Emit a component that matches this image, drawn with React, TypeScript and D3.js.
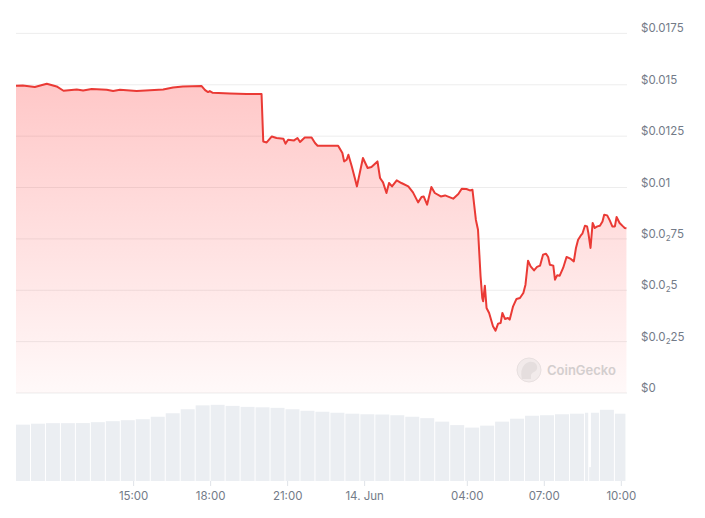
import * as d3 from "d3";
import React from "react";

// price series (day + time, USD)
const priceTimes = [
  "13 10:25", "13 10:41", "13 11:09", "13 11:37", "13 12:00", "13 12:16", "13 12:47", "13 13:02",
  "13 13:22", "13 13:57", "13 14:12", "13 14:28", "13 15:07", "13 16:09", "13 16:32", "13 16:55",
  "13 17:39", "13 17:47", "13 17:54", "13 17:58", "13 18:05", "13 18:45", "13 19:24", "13 19:59",
  "13 20:03", "13 20:11", "13 20:23", "13 20:34", "13 20:50", "13 20:55", "13 21:01", "13 21:15",
  "13 21:23", "13 21:29", "13 21:40", "13 21:56", "13 22:04", "13 22:10", "13 22:23", "13 22:58",
  "13 23:08", "13 23:12", "13 23:18", "13 23:22", "13 23:30", "13 23:37", "13 23:42", "13 23:56",
  "14 00:07", "14 00:16", "14 00:30", "14 00:36", "14 00:43", "14 00:51", "14 00:57", "14 01:04",
  "14 01:15", "14 01:26", "14 01:42", "14 01:53", "14 02:05", "14 02:13", "14 02:18", "14 02:26",
  "14 02:36", "14 02:44", "14 02:58", "14 03:08", "14 03:27", "14 03:39", "14 03:47", "14 03:58",
  "14 04:06", "14 04:12", "14 04:20", "14 04:25", "14 04:31", "14 04:35", "14 04:37", "14 04:41",
  "14 04:45", "14 04:51", "14 05:00", "14 05:06", "14 05:12", "14 05:18", "14 05:22", "14 05:28",
  "14 05:35", "14 05:39", "14 05:47", "14 05:55", "14 06:03", "14 06:11", "14 06:16", "14 06:22",
  "14 06:28", "14 06:36", "14 06:43", "14 06:50", "14 06:57", "14 07:04", "14 07:09", "14 07:13",
  "14 07:21", "14 07:25", "14 07:30", "14 07:36", "14 07:44", "14 07:52", "14 08:02", "14 08:09",
  "14 08:14", "14 08:19", "14 08:25", "14 08:29", "14 08:35", "14 08:40", "14 08:43", "14 08:48",
  "14 08:53", "14 08:58", "14 09:04", "14 09:10", "14 09:16", "14 09:20", "14 09:27", "14 09:33",
  "14 09:39", "14 09:45", "14 09:49", "14 09:56", "14 10:04", "14 10:08", "14 10:12",
];
const priceValues = [
  0.014952, 0.014967, 0.014889, 0.015049, 0.014918, 0.014709, 0.014772, 0.014723,
  0.014791, 0.014757, 0.014694, 0.014757, 0.014694, 0.014772, 0.014869, 0.014918,
  0.014937, 0.014743, 0.014646, 0.014694, 0.014611, 0.014577, 0.014548, 0.014548,
  0.012243, 0.012194, 0.012486, 0.012408, 0.012374, 0.012131, 0.012325, 0.012291,
  0.012408, 0.012214, 0.012437, 0.012437, 0.012165, 0.012034, 0.012034, 0.012034,
  0.011678, 0.01127, 0.011353, 0.011596, 0.011027, 0.010462, 0.010054, 0.011435,
  0.010949, 0.010997, 0.01127, 0.010462, 0.010249, 0.009733, 0.010219, 0.010054,
  0.010346, 0.010219, 0.010054, 0.009762, 0.009276, 0.009538, 0.009567, 0.009164,
  0.010025, 0.009733, 0.009567, 0.009616, 0.009456, 0.009684, 0.009942, 0.009927,
  0.009859, 0.009893, 0.008434, 0.007948, 0.005676, 0.004626, 0.00446, 0.005224,
  0.004139, 0.003896, 0.003244, 0.003035, 0.003376, 0.00341, 0.003896, 0.003604,
  0.003653, 0.00357, 0.004217, 0.004577, 0.004626, 0.004869, 0.005273, 0.00644,
  0.006163, 0.005968, 0.006134, 0.006197, 0.006732, 0.00678, 0.00662, 0.006245,
  0.006197, 0.005516, 0.005725, 0.00571, 0.006085, 0.00662, 0.006523, 0.006406,
  0.007058, 0.007461, 0.007656, 0.007753, 0.008142, 0.008108, 0.007787, 0.007058,
  0.008274, 0.00803, 0.008108, 0.008142, 0.008351, 0.008677, 0.008643, 0.0084,
  0.008108, 0.008108, 0.008566, 0.008274, 0.008108, 0.00803, 0.00802,
];

// volume bars: start time of each bar and relative volume
const volumeTimes = [
  "13 10:25", "13 11:00", "13 11:35", "13 12:10", "13 12:45", "13 13:20", "13 13:55", "13 14:30",
  "13 15:05", "13 15:40", "13 16:15", "13 16:50", "13 17:25", "13 18:00", "13 18:35", "13 19:10",
  "13 19:45", "13 20:20", "13 20:55", "13 21:30", "13 22:05", "13 22:40", "13 23:15", "13 23:50",
  "14 00:25", "14 01:00", "14 01:35", "14 02:10", "14 02:45", "14 03:20", "14 03:55", "14 04:30",
  "14 05:05", "14 05:40", "14 06:15", "14 06:50", "14 07:25", "14 08:00", "14 08:35", "14 08:45",
  "14 08:49", "14 09:10", "14 09:45",
];
const volumeValues = [
  63.3, 64.4, 65, 65, 65.1, 66.1, 67.2, 68.3,
  69.4, 72.2, 76.1, 80.6, 85, 85.6, 84.4, 83.3,
  82.8, 82.2, 80.6, 78.9, 77.8, 76.7, 75.6, 75,
  74.7, 73.9, 72.2, 70.6, 66.7, 62.8, 60, 62.2,
  66.7, 70, 73.3, 73.9, 75, 75.6, 76.7, 15.6,
  76.7, 80, 75.6,
];
const volumeEnd = "14 10:12";

const xTickTimes = ["13 15:00", "13 18:00", "13 21:00", "14 00:00", "14 04:00", "14 07:00", "14 10:00"];
const xTickLabels = ["15:00", "18:00", "21:00", "14. Jun", "04:00", "07:00", "10:00"];

const yTickValues = [0, 0.0025, 0.005, 0.0075, 0.01, 0.0125, 0.015, 0.0175];
// {n} marks a subscript count of zeros
const yTickLabels = ["$0", "$0.0{2}25", "$0.0{2}5", "$0.0{2}75", "$0.01", "$0.0125", "$0.015", "$0.0175"];

const parse = d3.timeParse("%d %H:%M");
const FONT = "Inter, 'Noto Sans', sans-serif";
const LABEL_COLOR = "#737b88";

const App: React.FC = () => {
  const width = 705;
  const height = 518;

  const x = d3
    .scaleTime()
    .domain([parse("13 10:25")!, parse("14 10:25")!])
    .range([16, 632]);
  const y = d3.scaleLinear().domain([0, 0.0175]).range([393, 33.4]);
  const yVol = d3.scaleLinear().domain([0, 100]).range([481, 392]);

  const points = priceTimes.map((t, i) => ({ t: parse(t)!, v: priceValues[i] }));

  const line = d3
    .line<{ t: Date; v: number }>()
    .x((d) => x(d.t))
    .y((d) => y(d.v));
  const area = d3
    .area<{ t: Date; v: number }>()
    .x((d) => x(d.t))
    .y0(y(0))
    .y1((d) => y(d.v));

  const volStarts = volumeTimes.map((t) => parse(t)!);
  const bars = volStarts.map((t, i) => {
    const x0 = x(t);
    const x1 = x(i < volStarts.length - 1 ? volStarts[i + 1] : parse(volumeEnd)!);
    const w = x1 - x0 > 4 ? x1 - x0 - 1 : x1 - x0;
    return { x0, w, v: volumeValues[i] };
  });

  const renderLabel = (s: string) => {
    const m = s.match(/^(.*)\{(\d)\}(.*)$/);
    if (!m) return s;
    return (
      <>
        {m[1]}
        <tspan fontSize={8} dy={3}>
          {m[2]}
        </tspan>
        <tspan dy={-3}>{m[3]}</tspan>
      </>
    );
  };

  return (
    <svg
      width={width}
      height={height}
      style={{ position: "absolute", left: 0, top: 0, background: "#fff" }}
    >
      <defs>
        <linearGradient id="priceFill" x1="0" y1="0" x2="0" y2="1">
          <stop offset="0%" stopColor="rgb(255,50,50)" stopOpacity={0.27} />
          <stop offset="100%" stopColor="rgb(255,50,50)" stopOpacity={0.03} />
        </linearGradient>
      </defs>

      {/* volume */}
      <g>
        {bars.map((b, i) => (
          <rect
            key={i}
            x={b.x0}
            y={yVol(b.v)}
            width={b.w}
            height={yVol(0) - yVol(b.v)}
            fill="#ebeef2"
          />
        ))}
      </g>

      {/* grid */}
      <g>
        {yTickValues.map((v) => (
          <line key={v} x1={16} x2={627} y1={y(v)} y2={y(v)} stroke="#ededed" strokeWidth={1} />
        ))}
      </g>

      <path d={area(points) ?? ""} fill="url(#priceFill)" />
      <path
        d={line(points) ?? ""}
        fill="none"
        stroke="#ea3a35"
        strokeWidth={2}
        strokeLinejoin="round"
      />

      {/* watermark */}
      <g opacity={0.9}>
        <circle cx={529} cy={370} r={12} fill="#f1eaea" stroke="#e6dede" strokeWidth={1} />
        <path
          d="M522,379 C520,372 522,364 529,362 C535,361 538,365 537,369 C536,372 532,372 531,375 L531,379 Z"
          fill="#e3dcdc"
        />
        <text x={547} y={375} fontFamily={FONT} fontSize={13} fontWeight={600} fill="#cfcaca">
          CoinGecko
        </text>
      </g>

      {/* y labels */}
      <g fontFamily={FONT} fontSize={11.5} fill={LABEL_COLOR}>
        {yTickValues.map((v, i) => (
          <text key={v} x={641} y={y(v) - 1}>
            {renderLabel(yTickLabels[i])}
          </text>
        ))}
      </g>

      {/* x axis */}
      <g fontFamily={FONT} fontSize={11.5} fill={LABEL_COLOR} textAnchor="middle">
        {xTickTimes.map((t, i) => {
          const xp = x(parse(t)!);
          return (
            <g key={t}>
              <line x1={xp} x2={xp} y1={481} y2={486} stroke="#dfe3e8" strokeWidth={1} />
              <text x={xp} y={500}>
                {xTickLabels[i]}
              </text>
            </g>
          );
        })}
      </g>
    </svg>
  );
};

export default App;
